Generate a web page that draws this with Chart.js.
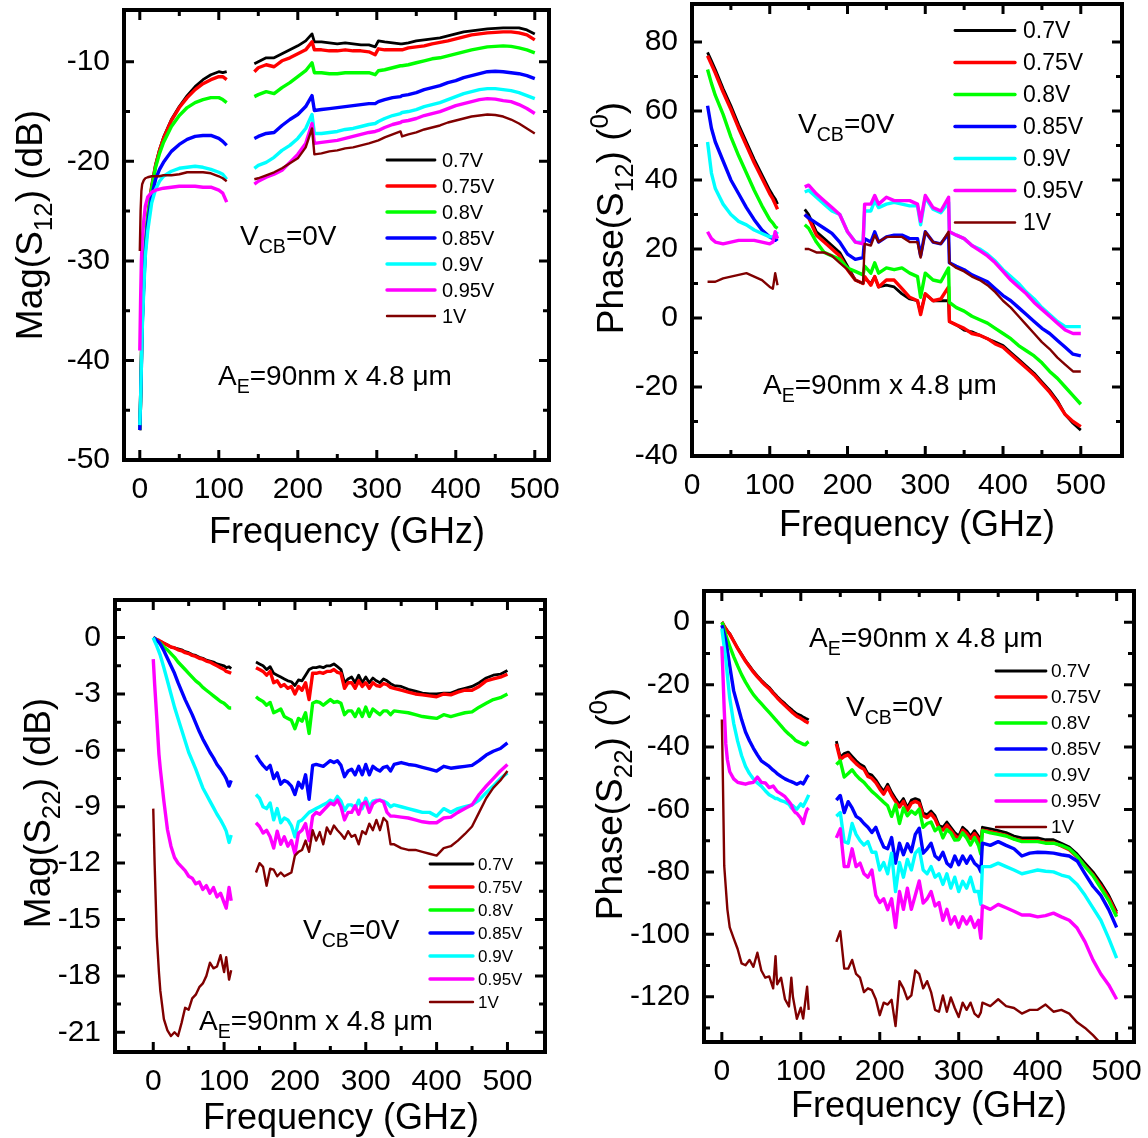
<!DOCTYPE html>
<html>
<head>
<meta charset="utf-8">
<script src="https://cdn.jsdelivr.net/npm/chart.js@4.4.1/dist/chart.umd.min.js"></script>
<style>
html, body { margin: 0; padding: 0; background: #fff; }
body { width: 1148px; height: 1138px; position: relative; overflow: hidden; }
canvas { position: absolute; }
</style>
</head>
<body>
<canvas id="magS12"></canvas>
<canvas id="phaseS12"></canvas>
<canvas id="magS22"></canvas>
<canvas id="phaseS22"></canvas>
<script>
const FONT = '"Liberation Sans", Arial, Helvetica, sans-serif';

// VBE bias of each curve, VCB = 0 V
const biasLabels = ['0.7V', '0.75V', '0.8V', '0.85V', '0.9V', '0.95V', '1V'];
const freqTicks = [0, 100, 200, 300, 400, 500];

// ---- Mag(S12), dB ----
const magS12Ticks = [-10, -20, -30, -40, -50];
const magS12FreqLow = [0, 1, 2, 3, 5, 7, 10, 15, 20, 25, 30, 40, 50, 60, 70, 80, 90, 100, 105, 110];
const magS12Low = [
  [-47, -44, -40, -36, -32, -28.5, -25.5, -22.5, -20.3, -18.8, -17.6, -15.8, -14.5, -13.4, -12.5, -11.8, -11.3, -11.0, -11.1, -11.0],
  [-47, -44, -40, -36, -32, -28.5, -25.5, -22.5, -20.4, -18.9, -17.7, -15.9, -14.6, -13.6, -12.8, -12.2, -11.8, -11.5, -11.5, -11.8],
  [-47, -44, -40, -36, -32, -28.5, -25.6, -22.7, -20.6, -19.2, -18.1, -16.5, -15.4, -14.6, -14.1, -13.8, -13.6, -13.6, -13.8, -14.1],
  [-47, -44, -40.5, -36.5, -32.5, -29, -26.2, -23.5, -21.8, -20.8, -20.1, -19.0, -18.3, -17.8, -17.5, -17.4, -17.4, -17.7, -18.0, -18.4],
  [-46.5, -44, -40.5, -37, -33, -29.5, -27, -24.2, -22.8, -22, -21.5, -21.0, -20.7, -20.6, -20.5, -20.6, -20.8, -21.1, -21.3, -21.8],
  [-39, -34, -30, -28, -26, -24.5, -23.6, -23.1, -22.9, -22.8, -22.7, -22.6, -22.5, -22.5, -22.5, -22.6, -22.6, -22.9, -23.2, -24.1],
  [-29, -25, -23, -22.3, -21.9, -21.7, -21.6, -21.5, -21.5, -21.5, -21.4, -21.4, -21.3, -21.1, -21.1, -21.1, -21.2, -21.5, -21.7, -22.0]
];
const magS12FreqHigh = [145, 150, 160, 170, 180, 190, 200, 210, 218, 221, 230, 240, 250, 260, 270, 280, 290, 298, 302, 310,
  320, 330, 332, 340, 350, 360, 370, 380, 390, 400, 410, 420, 430, 440, 450, 460, 470, 480, 490, 500];
const magS12High = [
  [-10.2, -10.0, -9.6, -9.6, -9.2, -8.8, -8.4, -7.9, -7.2, -8.0, -8.0, -8.1, -8.2, -8.1, -8.2, -8.3, -8.3, -8.5, -7.9, -8.0,
   -8.1, -8.2, -8.2, -8.1, -7.9, -7.8, -7.7, -7.6, -7.4, -7.2, -7.0, -6.9, -6.8, -6.7, -6.65, -6.6, -6.6, -6.6, -6.8, -7.2],
  [-11.0, -10.6, -10.3, -10.5, -9.9, -9.6, -9.2, -8.8, -8.0, -8.8, -8.8, -8.9, -8.9, -8.8, -8.9, -8.9, -9.0, -9.3, -8.7, -8.8,
   -8.8, -8.8, -8.8, -8.6, -8.5, -8.4, -8.2, -8.05, -7.9, -7.7, -7.5, -7.3, -7.2, -7.1, -7.05, -7.0, -7.0, -7.1, -7.3, -7.8],
  [-13.5, -13.3, -13.0, -13.2, -12.6, -12.1, -11.5, -10.9, -10.1, -11.1, -11.1, -11.2, -11.2, -11.1, -11.1, -11.1, -11.1, -11.3, -10.9, -10.8,
   -10.6, -10.4, -10.4, -10.3, -10.1, -9.9, -9.7, -9.6, -9.4, -9.2, -9.0, -8.8, -8.65, -8.5, -8.45, -8.4, -8.45, -8.6, -8.8, -9.1],
  [-17.7, -17.5, -17.2, -17.1, -16.4, -15.8, -15.3, -14.5, -13.4, -14.9, -14.8, -14.7, -14.6, -14.5, -14.4, -14.3, -14.2, -14.2, -14.0, -13.8,
   -13.6, -13.5, -13.4, -13.3, -13.1, -12.8, -12.6, -12.4, -12.1, -11.9, -11.6, -11.4, -11.2, -11.0, -10.95, -11.0, -11.1, -11.2, -11.4, -11.7],
  [-20.7, -20.4, -20.1, -19.6, -18.9, -18.4, -17.7, -16.7, -15.3, -17.2, -17.2, -17.1, -17.0, -16.8, -16.7, -16.5, -16.3, -16.2, -16.0, -15.7,
   -15.4, -15.2, -15.1, -15.0, -14.8, -14.5, -14.3, -14.1, -13.8, -13.5, -13.2, -13.0, -12.8, -12.7, -12.7, -12.8, -12.9, -13.1, -13.4, -13.7],
  [-22.3, -22.0, -21.6, -21.3, -20.9, -20.1, -19.3, -18.2, -16.2, -18.2, -18.1, -18.0, -17.9, -17.7, -17.5, -17.3, -17.1, -17.0, -16.9, -16.6,
   -16.3, -16.1, -16.0, -15.9, -15.7, -15.4, -15.2, -15.0, -14.7, -14.4, -14.2, -14.0, -13.8, -13.7, -13.75, -13.9, -14.0, -14.3, -14.7, -15.2],
  [-21.8, -21.7, -21.4, -21.1, -20.7, -20.2, -19.7, -18.6, -16.7, -19.3, -19.2, -19.0, -18.9, -18.7, -18.6, -18.4, -18.2, -18.0, -17.9, -17.6,
   -17.3, -17.0, -17.5, -17.3, -17.1, -16.8, -16.6, -16.4, -16.1, -15.9, -15.7, -15.5, -15.4, -15.3, -15.35, -15.5, -15.8, -16.2, -16.7, -17.2]
];

// ---- Phase(S12), degrees ----
const phaseS12Ticks = [80, 60, 40, 20, 0, -20, -40];
const phaseS12FreqLow = [20, 25, 30, 40, 50, 60, 70, 80, 90, 100, 104, 107, 110];
const phaseS12Low = [
  [77, 74.5, 72, 66.5, 61.5, 56, 51, 46, 41.5, 37, 35.5, 34.5, 33],
  [76, 73.5, 71, 65.5, 60.5, 55, 50, 45, 40.5, 36, 34.5, 33, 31.5],
  [72, 68, 64.5, 59, 52.5, 47, 42, 37, 32.5, 28.5, 27.5, 26.5, 26],
  [61.5, 55, 51, 45.5, 40, 36, 32, 28.5, 25.5, 23.5, 23, 22.5, 23],
  [51, 42, 37.5, 33, 30, 28, 27, 25.5, 24.5, 23.5, 23.5, 24, 25],
  [25, 23, 22, 21.5, 22, 22.5, 22.5, 22.5, 22, 21.5, 22, 25, 23],
  [10.5, 10.5, 10.5, 11.5, 12, 12.5, 13, 12, 11, 9, 8.5, 13, 9.5]
];
const phaseS12FreqHigh = [145, 150, 160, 170, 180, 190, 200, 210, 220, 222, 230, 235, 240, 250, 260, 270, 280, 290, 294, 300,
  310, 320, 330, 331, 340, 350, 360, 370, 380, 390, 400, 410, 420, 430, 440, 450, 460, 470, 480, 490, 500];
const phaseS12High = [
  [31.5, 30, 25, 23, 21, 19, 15, 11, 10, 11.5, 10, 12, 9, 9.5, 9, 7, 5.5, 5, 1.5, 7,
   5, 5, 5, -1, -2, -3.5, -4, -5, -6, -7, -8, -10, -12, -14, -16, -18.5, -21, -24, -28, -30.5, -32.5],
  [30, 29, 24, 22, 20, 18, 14, 11, 10, 12, 9.5, 12, 9, 11, 11, 8.5, 6, 5, 1, 7,
   5, 5.5, 9, -1, -2, -3, -4.5, -5, -6, -7.5, -8.5, -10.5, -12.5, -14.5, -16.5, -19, -21.5, -24.5, -28, -30, -31.5],
  [27, 26, 22, 19, 18, 17, 14.5, 13.5, 12.5, 15, 13, 16, 13, 14.5, 14, 14.5, 13, 12, 6, 13,
   11, 10.5, 14.5, 4.5, 3, 2, 0.5, -0.5, -1.5, -3, -4.5, -6, -8, -9.5, -11, -13, -15.5, -17.5, -20, -22.5, -25],
  [30, 29, 27.5, 26, 24.5, 22, 18.5, 17, 17.5, 23, 22, 25, 22, 23.5, 24, 24, 23, 23, 18, 25,
   22, 21.5, 24.5, 16, 15, 14, 12.5, 11.5, 10.5, 8.5, 6.5, 5, 3, 1, -1, -3, -4.5, -6.5, -8.5, -10.5, -11],
  [36.5, 37, 35, 33, 31, 30, 25, 22, 22, 31, 31, 34, 32, 33, 33.5, 33, 32.5, 32.5, 27, 35,
   31.5, 30.5, 33.5, 25, 24, 23, 21, 20, 18.5, 16.5, 14, 12, 10, 7.5, 5.5, 3, 1, -1, -2.5, -2.5, -2.5],
  [38, 38.5, 36, 34, 32, 30, 25, 22, 21.5, 33, 33, 35.5, 33, 35, 34, 34, 34, 33, 28, 35.5,
   32, 31, 35, 25, 24, 23, 21, 19.5, 18, 16, 13.5, 11, 9, 7, 4.5, 2.5, 0.5, -1.5, -3.5, -4.5, -4.5],
  [20, 20, 19, 19, 18, 16, 14, 11, 10, 21.5, 21, 24, 22, 23.5, 23.5, 23.5, 22, 22, 17.5, 25,
   22, 21.5, 25, 16, 14.5, 13.5, 12, 11, 9.5, 7.5, 5, 3, 0.5, -2, -4.5, -7, -9, -11.5, -13.5, -15.5, -15.5]
];

// ---- Mag(S22), dB ----
const magS22Ticks = [0, -3, -6, -9, -12, -15, -18, -21];
const magS22FreqLow = [0, 2, 5, 8, 10, 15, 20, 25, 30, 35, 40, 45, 50, 55, 60, 65, 70, 75, 80, 85, 90, 95, 100, 103, 107, 110];
const magS22Low = [
  [0, -0.05, -0.1, -0.15, -0.2, -0.3, -0.4, -0.5, -0.55, -0.6, -0.65, -0.75, -0.8, -0.9, -0.95, -1.05, -1.1, -1.2, -1.25, -1.3, -1.4, -1.45, -1.5, -1.6, -1.55, -1.65],
  [0, -0.05, -0.1, -0.15, -0.2, -0.3, -0.4, -0.5, -0.55, -0.65, -0.7, -0.8, -0.85, -0.95, -1.0, -1.1, -1.15, -1.25, -1.3, -1.4, -1.5, -1.6, -1.7, -1.8, -1.85, -1.9],
  [0, -0.05, -0.15, -0.25, -0.3, -0.5, -0.65, -0.85, -1.05, -1.3, -1.5, -1.7, -1.9, -2.1, -2.3, -2.45, -2.65, -2.8, -2.95, -3.1, -3.25, -3.4, -3.5, -3.6, -3.75, -3.75],
  [0, -0.05, -0.15, -0.25, -0.35, -0.7, -1.1, -1.5, -1.9, -2.4, -2.85, -3.3, -3.7, -4.1, -4.55, -5.0, -5.4, -5.75, -6.1, -6.4, -6.75, -7.0, -7.3, -7.5, -7.9, -7.6],
  [0, -0.2, -0.45, -0.75, -0.95, -1.6, -2.3, -3.0, -3.7, -4.3, -4.9, -5.5, -6.1, -6.55, -7.0, -7.5, -8.0, -8.35, -8.7, -9.05, -9.4, -9.7, -10.05, -10.3, -10.9, -10.5],
  [-1.15, -2.5, -4.3, -6.2, -7.0, -8.7, -10.2, -11.1, -11.7, -12.0, -12.2, -12.4, -12.7, -12.8, -13.1, -13.0, -13.4, -13.2, -13.6, -13.3, -13.8, -13.6, -14.1, -14.4, -13.3, -14.0],
  [-9.1, -12.1, -15.9, -17.8, -18.8, -20.3, -20.9, -21.2, -21.0, -21.2, -20.5, -19.7, -19.8, -19.2, -19.0, -18.6, -18.4, -18.0, -17.3, -17.6, -17.5, -16.9, -17.8, -17.0, -18.2, -17.7]
];
const magS22FreqHigh = [145, 150, 155, 160, 165, 170, 175, 180, 185, 190, 195, 200, 205, 210, 215, 220, 225, 230, 235, 240,
  245, 250, 255, 260, 265, 270, 275, 280, 285, 290, 295, 300, 305, 310, 315, 320, 325, 330, 335,
  340, 350, 360, 370, 380, 390, 400, 410, 420, 430, 440, 450, 460, 470, 480, 490, 500];
const magS22High = [
  [-1.3, -1.4, -1.5, -1.7, -1.55, -1.9, -2.0, -2.1, -2.2, -2.3, -2.35, -2.55, -2.25, -2.3, -2.0, -1.7, -1.6, -1.6, -1.55, -1.6,
   -1.5, -1.5, -1.4, -1.55, -1.7, -2.4, -2.2, -2.1, -2.4, -2.0, -2.4, -2.1, -2.4, -2.15, -2.3, -2.4, -2.2, -2.3, -2.45,
   -2.55, -2.6, -2.75, -2.85, -2.95, -3.0, -3.0, -2.95, -2.95, -2.8, -2.7, -2.6, -2.4, -2.15, -2.0, -1.95, -1.75],
  [-1.6, -1.7, -1.8, -2.0, -1.8, -2.4, -2.3, -2.6, -2.5, -2.7, -2.6, -3.0, -2.6, -2.8, -2.4, -3.3, -1.9, -1.9, -1.85, -1.9,
   -1.8, -1.8, -1.7, -1.85, -1.9, -2.7, -2.4, -2.4, -2.7, -2.3, -2.6, -2.4, -2.7, -2.4, -2.55, -2.6, -2.45, -2.5, -2.65,
   -2.7, -2.8, -2.9, -3.0, -3.05, -3.1, -3.15, -3.0, -3.05, -2.9, -2.8, -2.8, -2.6, -2.3, -2.2, -2.1, -1.95],
  [-3.15, -3.3, -3.4, -3.6, -3.45, -4.0, -3.9, -3.8, -4.2, -4.3, -4.4, -4.85, -4.3, -4.45, -4.0, -5.1, -3.5, -3.4, -3.45, -3.6,
   -3.45, -3.3, -3.45, -3.4, -3.5, -4.1, -3.9, -3.9, -4.2, -3.8, -4.2, -3.7, -4.2, -3.8, -3.95, -4.1, -3.9, -3.9, -4.1,
   -3.9, -3.95, -4.0, -4.1, -4.2, -4.25, -4.3, -4.1, -4.2, -4.1, -4.0, -3.95, -3.7, -3.5, -3.3, -3.2, -3.0],
  [-6.25, -6.55, -6.8, -7.0, -6.8, -7.5, -7.2, -7.8, -7.6, -7.7, -7.9, -8.35, -7.7, -8.0, -7.3, -8.6, -6.8, -6.75, -6.8, -6.85,
   -6.7, -6.55, -6.65, -6.55, -6.8, -7.4, -7.1, -7.0, -7.3, -6.85, -7.3, -6.75, -7.3, -6.85, -7.0, -7.1, -6.9, -6.85, -7.1,
   -6.75, -6.65, -6.75, -6.8, -6.9, -7.0, -7.1, -6.85, -6.95, -6.9, -6.85, -6.8, -6.55, -6.25, -6.05, -5.9, -5.6],
  [-8.35, -8.55, -9.0, -9.1, -8.8, -9.7, -9.1, -9.85, -9.6, -9.7, -10.0, -10.6, -9.8, -9.7, -9.5, -9.3, -9.2, -9.1, -9.0, -8.9,
   -8.8, -8.65, -8.75, -8.45, -8.7, -9.2, -8.9, -8.9, -9.1, -8.65, -9.1, -8.55, -9.0, -8.7, -8.65, -8.65, -8.7, -8.8, -9.0,
   -8.9, -9.0, -9.1, -9.2, -9.3, -9.3, -9.5, -9.1, -9.3, -9.1, -9.0, -8.9, -8.65, -8.25, -7.9, -7.5, -7.2],
  [-9.85, -10.05, -10.4, -10.25, -10.6, -11.2, -10.3, -11.0, -10.6, -11.1, -10.8, -11.5, -10.4, -10.25, -9.9, -10.8, -9.5, -9.3, -9.4, -9.2,
   -9.0, -8.8, -8.9, -8.65, -9.0, -9.7, -9.3, -9.3, -8.95, -9.4, -8.85, -8.75, -9.3, -8.85, -8.7, -8.65, -8.75, -9.3, -9.5,
   -9.5, -9.55, -9.6, -9.7, -9.8, -9.85, -9.85, -9.6, -9.55, -9.3, -9.1, -8.9, -8.35, -7.9, -7.5, -7.1, -6.75],
  [-12.5, -12.0, -12.2, -13.2, -12.3, -12.35, -12.7, -12.5, -12.7, -12.6, -12.5, -11.6, -11.4, -11.3, -10.8, -11.4, -10.25, -10.8, -10.35, -11.0,
   -10.1, -10.45, -10.0, -10.25, -10.45, -10.7, -10.3, -10.6, -10.5, -11.0, -10.3, -10.45, -9.9, -10.25, -9.7, -10.25, -9.6, -9.8, -11.0,
   -11.0, -11.2, -11.3, -11.3, -11.4, -11.5, -11.6, -11.2, -11.1, -10.8, -10.45, -10.05, -9.3, -8.55, -8.0, -7.6, -7.1]
];

// ---- Phase(S22), degrees ----
const phaseS22Ticks = [0, -20, -40, -60, -80, -100, -120];
const phaseS22FreqLow = [0, 1, 3, 5, 7, 10, 15, 20, 25, 30, 35, 40, 45, 50, 55, 60, 65, 68, 70, 75, 80, 85, 88, 90, 93, 95, 100, 103, 106, 108, 110];
const phaseS22Low = [
  [0, -0.3, -1.3, -2, -2.8, -3.7, -6, -8.3, -10.3, -12.3, -14, -15.7, -17.2, -18.6, -19.8, -20.9, -22.4, -23.2, -23.8, -25, -26.1, -27.3, -27.9, -28.4, -29, -29.3, -29.9, -30.4, -30.8, -31.0, -31.3],
  [0, -0.3, -1.3, -2.1, -2.9, -3.8, -6.1, -8.4, -10.5, -12.5, -14.3, -16, -17.5, -18.9, -20.2, -21.3, -22.8, -23.6, -24.2, -25.5, -26.7, -27.9, -28.6, -29.1, -29.7, -30.1, -30.8, -31.3, -31.8, -32.1, -32.3],
  [0, -0.5, -2.5, -4, -5.6, -7.7, -11, -14, -16.8, -19.2, -21.3, -23.2, -24.7, -26.1, -27.5, -28.9, -30.3, -31.2, -31.8, -33.2, -34.7, -35.9, -36.5, -37, -37.8, -38.1, -38.7, -39.1, -39.3, -38.6, -38.3],
  [-1, -1.8, -3.8, -6, -9, -14, -22, -26.6, -31.2, -35.2, -38, -40.4, -42.5, -44.4, -45.3, -46.2, -47.4, -48, -48.5, -49.4, -50.2, -50.8, -51.1, -51.3, -51.7, -51.9, -51.3, -51.8, -50.5, -49.5, -49],
  [-2, -4, -8, -11.7, -17, -24.3, -32.4, -38.1, -42.7, -46.2, -48.5, -50.2, -51.5, -52.5, -54, -55.3, -56, -56.5, -56.5, -57.2, -57.6, -58.3, -59.5, -58.8, -59.5, -59.9, -58.2, -59, -57.5, -56.5, -55.3],
  [-7.7, -14, -28, -39, -44, -47.9, -50.2, -51.3, -51.6, -51.9, -51.5, -51.3, -49.6, -51.3, -51.5, -53, -52.5, -53.5, -54.2, -55, -55.9, -57.5, -58.5, -59.9, -61, -61.2, -62.8, -64.5, -61.5, -60, -59.5],
  [-31.2, -45, -78, -85, -92, -97.8, -101.3, -104.7, -109.3, -109.9, -108.2, -110.4, -105.9, -111.6, -113.9, -113.5, -117.3, -107, -116, -113.9, -120.8, -123.1, -113.9, -120, -124.2, -127.1, -123.5, -127, -120.8, -116.8, -124.2]
];
const phaseS22FreqHigh = [145, 150, 155, 160, 165, 170, 175, 180, 185, 190, 195, 200, 205, 210, 215, 220, 225, 230, 235, 240,
  245, 250, 255, 260, 265, 270, 275, 280, 285, 290, 295, 300, 305, 310, 315, 320, 325, 328, 330,
  340, 350, 360, 370, 380, 390, 400, 410, 420, 430, 440, 450, 460, 470, 480, 490, 500];
const phaseS22High = [
  [-38.1, -43.3, -42.1, -41.6, -43, -44.4, -45.5, -46.2, -48.5, -49, -50.5, -52.5, -54.2, -51.9, -54.5, -56.5, -58.3, -56.5, -59.4, -57,
   -56.5, -57, -61.1, -61.7, -60.5, -62, -65.1, -65.7, -64, -65.7, -67.4, -68.5, -65.7, -66.8, -68.5, -66.8, -68.5, -70.8, -65.7,
   -66.2, -66.8, -67.4, -68.5, -69.1, -69.1, -69.1, -69.7, -69.7, -70.8, -72, -74.3, -77.2, -80, -83.5, -87.5, -92.7],
  [-39, -44, -43, -42.5, -44, -45.3, -46.4, -47.1, -49.4, -50, -51.4, -53.4, -55.1, -52.8, -55.4, -57.4, -59.2, -57.4, -60.3, -58,
   -57.4, -58, -62, -62.6, -61.4, -63, -66, -66.6, -65, -66.6, -68.3, -69.4, -66.6, -67.7, -69.4, -67.7, -69.4, -71.7, -66.6,
   -67.1, -67.7, -68.3, -69.4, -70, -70, -70, -70.6, -70.6, -71.7, -72.9, -75.2, -78.1, -80.9, -84.4, -88.4, -93.5],
  [-45.6, -44.4, -49.6, -48.5, -47.3, -49, -50.3, -51.3, -52.8, -54.2, -55.3, -56.5, -57.7, -58.8, -62.2, -58.5, -64.5, -59.5, -62, -60.5,
   -61.5, -59.9, -65.7, -64.5, -64, -66.8, -65.7, -69.1, -66.5, -67.5, -69.8, -69.7, -67.5, -69.1, -71.4, -69, -71.5, -74.3, -66.8,
   -67.5, -68, -68.5, -69.5, -70.3, -70.3, -70.3, -70.8, -70.8, -71.5, -72.6, -75, -78.3, -81.2, -85.2, -89.2, -94.4],
  [-57, -55.5, -61, -57.5, -59.5, -62.2, -63, -64.5, -65.7, -67.4, -65.7, -69.1, -72, -72.6, -69, -77.2, -70.8, -74.5, -71, -73.5,
   -68, -66, -74, -72.6, -70.8, -74.9, -76, -73.7, -77.2, -78.3, -74.9, -77.7, -74.9, -77.2, -74.9, -77.2, -78.3, -80, -70.8,
   -71.5, -70.3, -71.5, -72.6, -74.9, -74, -73.7, -73.8, -74, -74.5, -74.9, -76.5, -80.6, -84.6, -87.5, -92.1, -97.8],
  [-62.2, -61, -70.3, -70.8, -64.5, -68, -70, -71.4, -70.3, -73.7, -73.7, -79.4, -77, -80.6, -74, -86.3, -77, -81.7, -76, -79.4,
   -74, -72.6, -79.4, -80.6, -78.3, -81.7, -80.6, -84, -80.6, -85.2, -81.7, -86.3, -83, -85.2, -81.7, -86.3, -86.3, -90.4, -78.3,
   -78.3, -77.2, -78.3, -79.4, -80.6, -80, -79.4, -79.8, -80, -81, -81.7, -84, -87.5, -91.5, -95.5, -101.3, -107.6],
  [-69.1, -66.2, -78.3, -78.3, -72.6, -78.3, -77.2, -80.6, -81.7, -79.4, -87.5, -89.8, -88.6, -92.1, -88.6, -97.8, -86.3, -92, -85.2, -92,
   -87.5, -82.9, -90, -88.6, -86.3, -90.9, -89.8, -95.5, -92, -96.7, -94.4, -97.8, -94.4, -96.7, -94.4, -97.8, -95.5, -101.3, -90.9,
   -92, -90.4, -91.5, -92.6, -93.8, -93.8, -94.4, -94, -93.2, -94.4, -95.5, -98, -102.4, -108.2, -112.7, -116.2, -120.8],
  [-102.4, -99, -111, -111, -108.2, -112.7, -113.9, -118.5, -117.3, -117.9, -120.8, -125.9, -121.9, -122.5, -121, -129.4, -115, -117.3, -120.8, -119.6,
   -111.6, -112.7, -117.3, -115, -118.5, -124.2, -124.8, -119.6, -124.8, -120.2, -123.6, -126.5, -121.9, -124.2, -121.9, -125.4, -126.5, -125, -121.9,
   -123, -120.8, -123, -123.6, -125.4, -124.2, -124.2, -122.5, -124.8, -124.2, -125.4, -128.2, -130, -132.3, -135, null, null]
];

// line styles, one per bias
const lineColors = ['#000000', '#ff0000', '#00ff00', '#0000ff', '#00ffff', '#ff00ff', '#800000'];
const lineWidths = [2.8, 3.4, 3.4, 3.4, 3.4, 3.4, 2.4];

const vcbNote = [{ t: 'V' }, { t: 'CB', sub: true }, { t: '=0V' }];
const areaNote = [{ t: 'A' }, { t: 'E', sub: true }, { t: '=90nm x 4.8 \u03bcm' }];

// layout of the four panels, page pixels
const panels = [
  {
    id: 'magS12', canvas: { x: 0, y: 0, w: 574, h: 569 },
    box: { left: 124, top: 10, right: 549, bottom: 460 },
    xRange: [-20, 518], yRange: [-50, -4.8], yTicks: magS12Ticks, yMinor: 5,
    freqLow: magS12FreqLow, low: magS12Low, freqHigh: magS12FreqHigh, high: magS12High,
    yTitle: [{ t: 'Mag(S' }, { t: '12', sub: true }, { t: ') (dB)' }],
    yTitlePos: { x: 42, y: 225, size: 37 }, xTitlePos: { x: 209, y: 543, size: 36 },
    notes: [{ parts: vcbNote, x: 240, y: 245 }, { parts: areaNote, x: 218, y: 385 }],
    legend: { x0: 387, x1: 435, tx: 442, y0: 160, dy: 26, size: 20 }
  },
  {
    id: 'phaseS12', canvas: { x: 574, y: 0, w: 574, h: 569 },
    box: { left: 692, top: 4, right: 1122, bottom: 456 },
    xRange: [0, 553], yRange: [-40, 91], yTicks: phaseS12Ticks, yMinor: 10,
    freqLow: phaseS12FreqLow, low: phaseS12Low, freqHigh: phaseS12FreqHigh, high: phaseS12High,
    yTitle: [{ t: 'Phase(S' }, { t: '12', sub: true }, { t: ') (' }, { t: '0', sup: true }, { t: ')' }],
    yTitlePos: { x: 623, y: 218, size: 37 }, xTitlePos: { x: 779, y: 536, size: 36 },
    notes: [{ parts: vcbNote, x: 798, y: 133 }, { parts: areaNote, x: 763, y: 394 }],
    legend: { x0: 955, x1: 1015, tx: 1023, y0: 30.5, dy: 32, size: 23 }
  },
  {
    id: 'magS22', canvas: { x: 0, y: 569, w: 574, h: 569 },
    box: { left: 115, top: 600, right: 545, bottom: 1052 },
    xRange: [-54, 553], yRange: [-22.05, 2], yTicks: magS22Ticks, yMinor: 1.5,
    freqLow: magS22FreqLow, low: magS22Low, freqHigh: magS22FreqHigh, high: magS22High,
    yTitle: [{ t: 'Mag(S' }, { t: '22', sub: true }, { t: ') (dB)' }],
    yTitlePos: { x: 50, y: 813, size: 37 }, xTitlePos: { x: 203, y: 1129, size: 36 },
    notes: [{ parts: vcbNote, x: 303, y: 939 }, { parts: areaNote, x: 199, y: 1030 }],
    legend: { x0: 430, x1: 473, tx: 478, y0: 864, dy: 23, size: 17 }
  },
  {
    id: 'phaseS22', canvas: { x: 574, y: 569, w: 574, h: 569 },
    box: { left: 704, top: 591, right: 1134, bottom: 1042 },
    xRange: [-22.6, 522], yRange: [-134.5, 10], yTicks: phaseS22Ticks, yMinor: 10,
    freqLow: phaseS22FreqLow, low: phaseS22Low, freqHigh: phaseS22FreqHigh, high: phaseS22High,
    yTitle: [{ t: 'Phase(S' }, { t: '22', sub: true }, { t: ') (' }, { t: '0', sup: true }, { t: ')' }],
    yTitlePos: { x: 622, y: 804, size: 37 }, xTitlePos: { x: 791, y: 1117, size: 36 },
    notes: [{ parts: areaNote, x: 809, y: 647 }, { parts: vcbNote, x: 846, y: 716 }],
    legend: { x0: 996, x1: 1046, tx: 1051, y0: 671, dy: 26, size: 19 }
  }
];

// two measurement bands, broken between them
function buildPoints(fLow, vLow, fHigh, vHigh) {
  const pts = fLow.map((f, i) => ({ x: f, y: vLow[i] }));
  pts.push({ x: (fLow[fLow.length - 1] + fHigh[0]) / 2, y: null });
  fHigh.forEach((f, i) => pts.push({ x: f, y: vHigh[i] }));
  return pts;
}

// text with sub/superscripts
function drawRich(ctx, parts, x, y, size, rotate, center) {
  const segs = parts.map(p => {
    const s = (p.sub || p.sup) ? size * 0.7 : size;
    ctx.font = s + 'px ' + FONT;
    return Object.assign({ s: s, w: ctx.measureText(p.t).width }, p);
  });
  const total = segs.reduce((a, g) => a + g.w, 0);
  ctx.save();
  ctx.translate(x, y);
  if (rotate) ctx.rotate(-Math.PI / 2);
  ctx.fillStyle = '#000';
  ctx.textAlign = 'left';
  ctx.textBaseline = 'alphabetic';
  let cx = center ? -total / 2 : 0;
  segs.forEach(g => {
    ctx.font = g.s + 'px ' + FONT;
    const dy = g.sub ? size * 0.27 : g.sup ? -size * 0.4 : 0;
    ctx.fillText(g.t, cx, dy);
    cx += g.w;
  });
  ctx.restore();
}

function minorValues(min, max, step, majors) {
  const out = [];
  for (let v = Math.ceil(min / step) * step; v <= max + 1e-9; v += step) {
    const r = Math.round(v * 100) / 100;
    if (!majors.some(m => Math.abs(m - r) < 1e-6)) out.push(r);
  }
  return out;
}

function decorPlugin(p) {
  return {
    id: 'decor',
    afterDatasetsDraw(chart) {
      const ctx = chart.ctx, a = chart.chartArea;
      const xs = chart.scales.x, ys = chart.scales.y;
      const ox = p.canvas.x, oy = p.canvas.y;
      ctx.save();
      ctx.strokeStyle = '#000';
      ctx.lineCap = 'butt';
      ctx.lineWidth = 3;

      const xMarks = freqTicks.map(v => [v, 10]).concat(minorValues(p.xRange[0], p.xRange[1], 50, freqTicks).map(v => [v, 6]));
      const yMarks = p.yTicks.map(v => [v, 10]).concat(minorValues(p.yRange[0], p.yRange[1], p.yMinor, p.yTicks).map(v => [v, 6]));
      ctx.beginPath();
      xMarks.forEach(([v, len]) => {
        const px = xs.getPixelForValue(v);
        if (px < a.left + 4 || px > a.right - 4) return;
        ctx.moveTo(px, a.bottom); ctx.lineTo(px, a.bottom - len);
        ctx.moveTo(px, a.top); ctx.lineTo(px, a.top + len);
      });
      yMarks.forEach(([v, len]) => {
        const py = ys.getPixelForValue(v);
        if (py < a.top + 4 || py > a.bottom - 4) return;
        ctx.moveTo(a.left, py); ctx.lineTo(a.left + len, py);
        ctx.moveTo(a.right, py); ctx.lineTo(a.right - len, py);
      });
      ctx.stroke();

      ctx.lineWidth = 4;
      ctx.strokeRect(a.left, a.top, a.right - a.left, a.bottom - a.top);

      // legend
      const lg = p.legend;
      chart.data.datasets.forEach((ds, k) => {
        const y = lg.y0 + k * lg.dy - oy;
        ctx.strokeStyle = ds.borderColor;
        ctx.lineWidth = ds.borderWidth;
        ctx.lineCap = 'round';
        ctx.beginPath();
        ctx.moveTo(lg.x0 - ox, y);
        ctx.lineTo(lg.x1 - ox, y);
        ctx.stroke();
        ctx.fillStyle = '#000';
        ctx.font = lg.size + 'px ' + FONT;
        ctx.textAlign = 'left';
        ctx.textBaseline = 'middle';
        ctx.fillText(ds.label, lg.tx - ox, y + 1);
      });

      p.notes.forEach(n => drawRich(ctx, n.parts, n.x - ox, n.y - oy, 28, false, false));
      drawRich(ctx, [{ t: 'Frequency (GHz)' }], p.xTitlePos.x - ox, p.xTitlePos.y - oy, p.xTitlePos.size, false, false);
      drawRich(ctx, p.yTitle, p.yTitlePos.x - ox, p.yTitlePos.y - oy, p.yTitlePos.size, true, true);
      ctx.restore();
    }
  };
}

// the scales must not reserve room for half-labels at their ends
function noEndPadding(s) {
  s.paddingTop = 0;
  s.paddingBottom = 0;
  s.paddingLeft = 0;
  s.paddingRight = 0;
}

panels.forEach(p => {
  const cv = document.getElementById(p.id);
  cv.width = p.canvas.w;
  cv.height = p.canvas.h;
  Object.assign(cv.style, {
    left: p.canvas.x + 'px', top: p.canvas.y + 'px',
    width: p.canvas.w + 'px', height: p.canvas.h + 'px'
  });
  const yAxisW = p.box.left - p.canvas.x;
  const xAxisH = p.canvas.y + p.canvas.h - p.box.bottom;
  const tickFont = { family: FONT, size: 30 };

  new Chart(cv, {
    type: 'line',
    data: {
      datasets: biasLabels.map((label, k) => ({
        label: label,
        data: buildPoints(p.freqLow, p.low[k], p.freqHigh, p.high[k]),
        borderColor: lineColors[k],
        borderWidth: lineWidths[k],
        pointRadius: 0,
        tension: 0,
        spanGaps: false,
        fill: false,
        order: -k,
        borderJoinStyle: 'round'
      }))
    },
    options: {
      responsive: false,
      animation: false,
      devicePixelRatio: 1,
      layout: {
        autoPadding: false,
        padding: {
          left: 0, bottom: 0,
          top: p.box.top - p.canvas.y,
          right: p.canvas.x + p.canvas.w - p.box.right
        }
      },
      plugins: { legend: { display: false }, tooltip: { enabled: false } },
      scales: {
        x: {
          type: 'linear', position: 'bottom',
          min: p.xRange[0], max: p.xRange[1],
          afterBuildTicks: s => { s.ticks = freqTicks.map(v => ({ value: v })); },
          afterFit: s => { s.height = xAxisH; noEndPadding(s); },
          grid: { display: false, drawTicks: false },
          border: { display: false },
          ticks: { color: '#000', font: tickFont, padding: 12, maxRotation: 0, autoSkip: false, callback: v => String(v) }
        },
        y: {
          type: 'linear', position: 'left',
          min: p.yRange[0], max: p.yRange[1],
          afterBuildTicks: s => { s.ticks = p.yTicks.map(v => ({ value: v })); },
          afterFit: s => { s.width = yAxisW; noEndPadding(s); },
          grid: { display: false, drawTicks: false },
          border: { display: false },
          ticks: { color: '#000', font: tickFont, padding: 14, autoSkip: false, callback: v => String(v) }
        }
      }
    },
    plugins: [decorPlugin(p)]
  });
});
</script>
</body>
</html>
